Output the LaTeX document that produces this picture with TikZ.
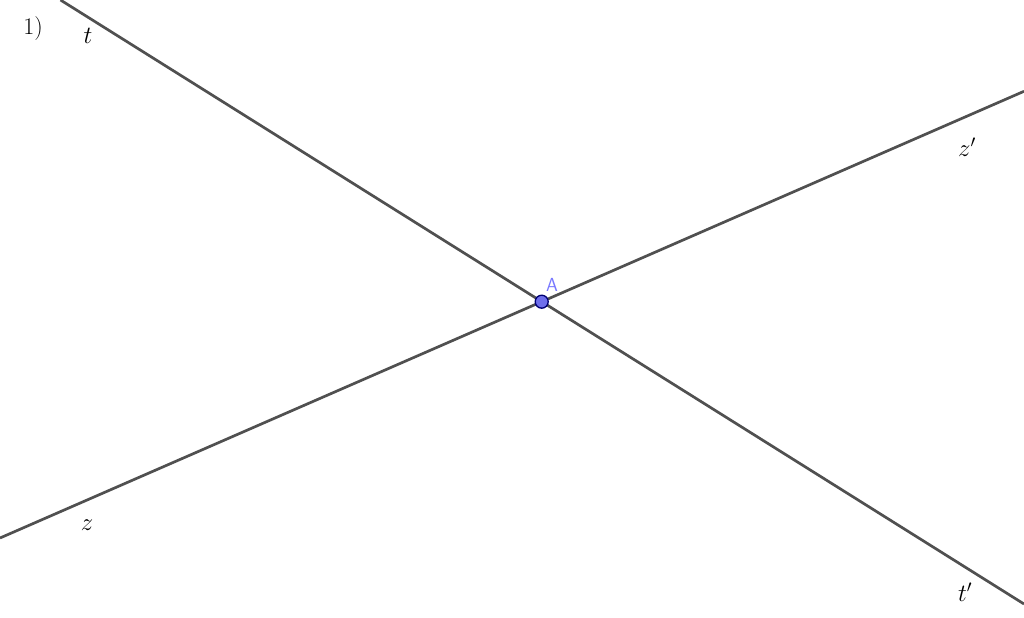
\documentclass[tikz,border=0pt]{standalone}
\usepackage{tikz}
\definecolor{lineGray}{RGB}{80, 80, 80}
\definecolor{ptBlue}{RGB}{110, 110, 235}
\definecolor{lblBlue}{RGB}{120, 120, 255}
\tikzset{every picture/.style={line width=0.75pt}}
\tikzset{
  geoline/.style={draw=lineGray, line width=2.7bp},
  linelbl/.style={inner sep=0.75pt, font=\fontsize{24}{28}\selectfont},
  ptdot/.style={circle, draw=black!55!blue, fill=ptBlue, line width=1.3bp, minimum size=13bp, inner sep=0pt}
}

\begin{document}
\begin{tikzpicture}[x=1bp,y=1bp,yscale=-1,xscale=1]
\useasboundingbox (0,0) rectangle (1024,618);

% line ends
\coordinate (t1) at (60.5,0);
\coordinate (t2) at (1024,604);
\coordinate (z1) at (0,538);
\coordinate (z2) at (1024,91.3);

%Straight Lines
\draw [geoline] (t1) -- (t2) ;
%Straight Lines
\draw [geoline] (z1) -- (z2) ;

%Point A
\node [ptdot] (A) at (541.7,301.7) {};
\node [anchor=south west, inner sep=0.75pt, text=lblBlue, font=\sffamily\fontsize{19}{22}\selectfont] (Alabel) at (545,293) {A};

% Text Node
\node [linelbl] (num) at (33,29) {1)};
% Text Node
\node [linelbl] (tlbl) at (88,36) {$t$};
% Text Node
\node [linelbl] (tplbl) at (965,592) {$t'$};
% Text Node
\node [linelbl] (zlbl) at (87,525) {$z$};
% Text Node
\node [linelbl] (zplbl) at (967,147) {$z'$};

\end{tikzpicture}
\end{document}
